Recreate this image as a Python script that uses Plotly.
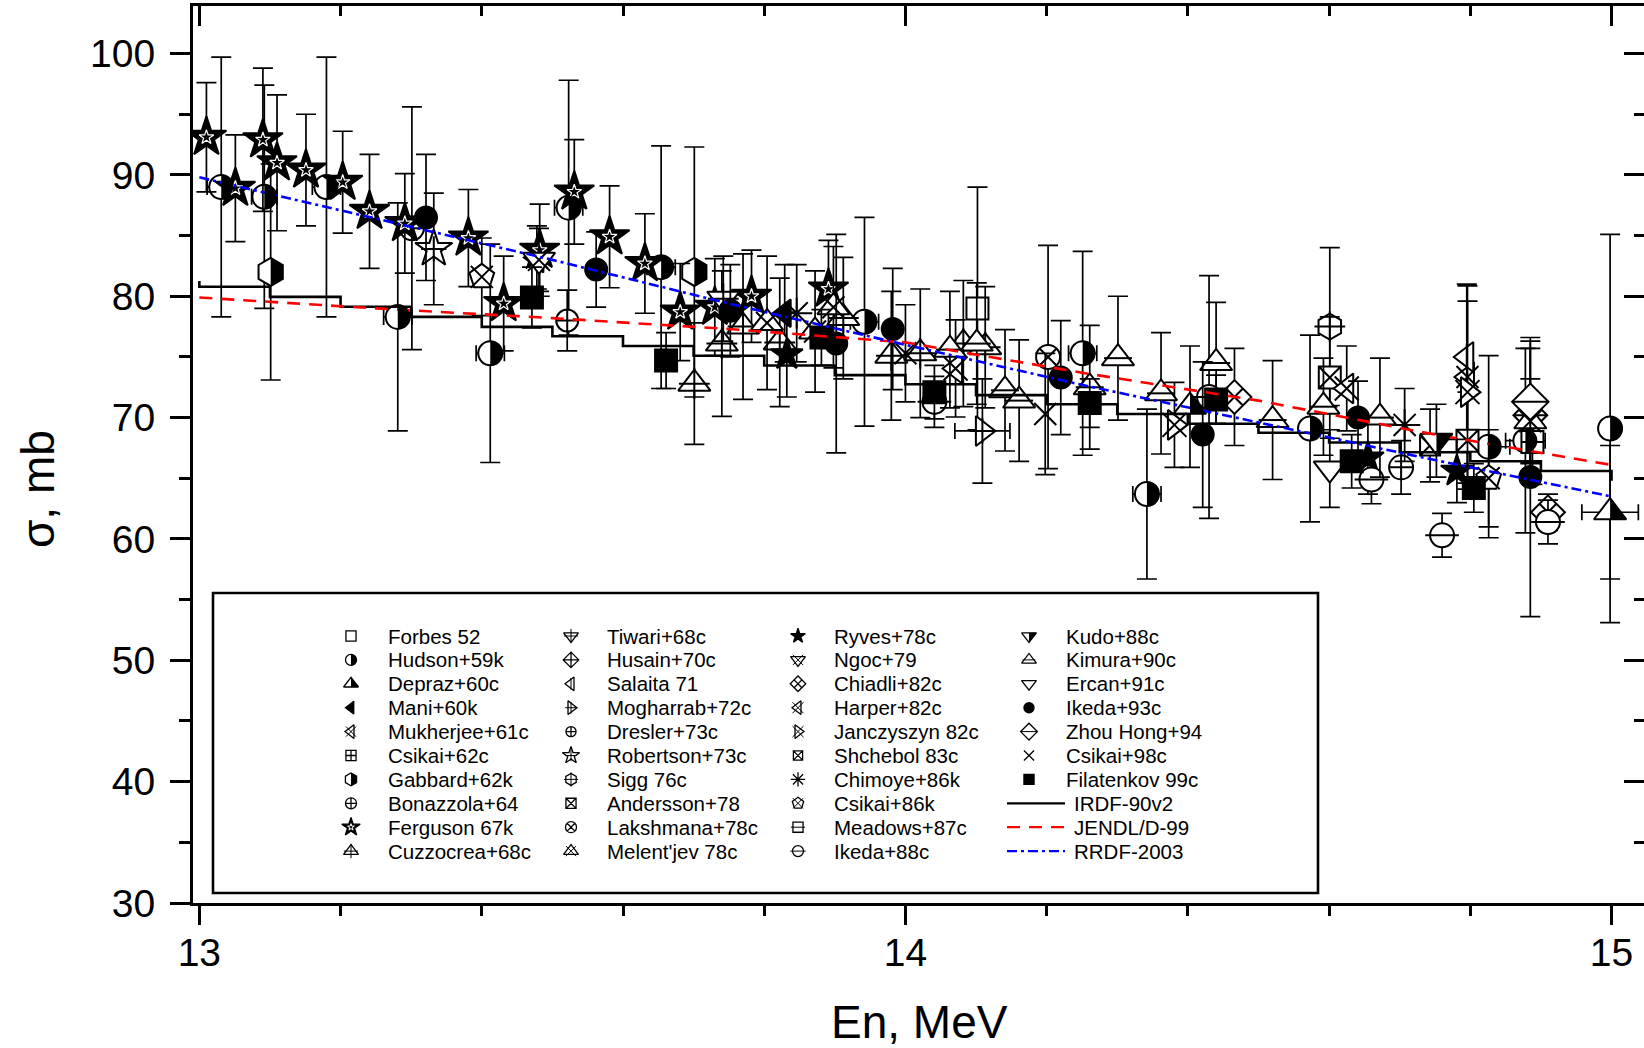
import plotly.graph_objects as go

# ---------------- measured data: En (MeV), cross section (mb), 1-sigma errors ----------------
forbes_en = [14.102]
forbes_cs = [79.0]
forbes_err = [10.0]

hudson_en = [13.031, 13.092, 13.180, 13.281, 13.412, 13.523, 13.654, 13.942, 14.251, 14.342, 14.573, 14.826, 14.878, 14.998]
hudson_cs = [89.0, 88.2, 89.0, 78.3, 75.3, 87.3, 82.4, 77.9, 75.3, 63.7, 69.1, 67.6, 68.1, 69.1]
hudson_err = [10.7, 9.2, 10.7, 9.4, 9.0, 10.5, 10.0, 8.6, 8.4, 7.0, 7.7, 7.5, 7.6, 16.0]
hudson_xerr = [0.02, 0.018, 0.02, 0.02, 0.02, 0.02, 0.02, 0.02, 0.02, 0.02, 0.0, 0.03, 0.028, 0.0]

depraz_en = [14.403, 14.998]
depraz_cs = [70.9, 62.2]
depraz_err = [5.0, 5.5]
depraz_xerr = [0.0, 0.04]

mani_en = [13.829]
mani_cs = [78.6]
mani_err = [4.0]

mukherjee_en = [13.478, 14.796]
mukherjee_cs = [83.2, 73.35]
mukherjee_err = [2.6, 7.5]

csikai62_en = [14.888]
csikai62_cs = [68.0]
csikai62_err = [3.5]

gabbard_en = [13.101, 13.701]
gabbard_cs = [82.0, 82.0]
gabbard_err = [8.9, 10.3]

bonazzola_en = [13.301, 14.702]
bonazzola_cs = [85.6, 65.9]
bonazzola_err = [10.0, 2.2]

ferguson_en = [13.010, 13.051, 13.090, 13.110, 13.151, 13.203, 13.241, 13.291, 13.381, 13.431,
               13.482, 13.531, 13.581, 13.631, 13.681, 13.730, 13.782, 13.891]
ferguson_cs = [93.1, 88.9, 92.9, 91.0, 90.4, 89.4, 87.0, 86.0, 84.8, 79.4,
               83.8, 88.6, 84.9, 82.7, 78.7, 79.1, 80.0, 80.6]
ferguson_err = [4.5, 4.4, 5.9, 5.6, 4.6, 4.2, 4.7, 4.1, 4.0, 3.9,
                3.8, 4.3, 4.2, 4.1, 4.0, 4.0, 3.8, 4.0]

cuzzocrea_en = [13.701, 13.740, 13.770, 13.822, 13.912, 13.980, 14.021, 14.082, 14.113]
cuzzocrea_cs = [72.8, 76.1, 77.5, 76.2, 78.2, 75.1, 75.3, 76.1, 75.8]
cuzzocrea_err = [5.0, 6.0, 6.0, 5.3, 5.0, 5.3, 5.3, 5.2, 5.0]

tiwari_en = [13.742]
tiwari_cs = [79.8]
tiwari_err = [3.5]

husain_en = [14.885]
husain_cs = [70.2]
husain_err = [5.5]

salaita_en = [14.795]
salaita_cs = [75.0]
salaita_err = [6.0]

mogharrab_en = [14.109]
mogharrab_cs = [68.9]
mogharrab_err = [4.3]
mogharrab_xerr = [0.039]

dresler_en = [13.521]
dresler_cs = [78.0]
dresler_err = [2.5]

robertson_en = [13.332]
robertson_cs = [83.9]
robertson_err = [4.6]

sigg_en = [14.601]
sigg_cs = [77.5]
sigg_err = [6.5]

andersson_en = [14.601, 14.796]
andersson_cs = [73.3, 68.1]
andersson_err = [5.0, 4.0]

lakshmana_en = [14.202]
lakshmana_cs = [75.0]
lakshmana_err = [9.2]

melentjev_en = [13.804, 13.872, 13.898, 14.885]
melentjev_cs = [77.8, 77.1, 79.1, 69.7]
melentjev_err = [5.5, 5.0, 5.0, 3.5]

ryves_en = [13.832, 14.655, 14.781]
ryves_cs = [75.2, 66.7, 65.6]
ryves_err = [3.5, 3.0, 2.6]

ngoc_en = [13.481]
ngoc_cs = [83.0]
ngoc_err = [2.6]

chiadli_en = [14.466, 14.910]
chiadli_cs = [71.7, 62.2]
chiadli_err = [4.0, 1.5]

harper_en = [14.071, 14.625]
harper_cs = [74.05, 72.4]
harper_err = [4.0, 3.5]

janczyszyn_en = [14.381, 14.796]
janczyszyn_cs = [69.4, 72.1]
janczyszyn_err = [3.5, 7.5]

shchebol_en = [14.743]
shchebol_cs = [67.7]
shchebol_err = [3.0]

chimoye_en = [13.846, 14.707]
chimoye_cs = [78.6, 69.4]
chimoye_err = [4.0, 3.0]

csikai86_en = [13.400, 14.826]
csikai86_cs = [81.6, 65.0]
csikai86_err = [3.2, 4.0]

meadows_en = []
meadows_cs = []
meadows_err = []

ikeda88_en = [14.041, 14.430, 14.660, 14.760, 14.910]
ikeda88_cs = [71.3, 71.7, 64.9, 60.3, 61.4]
ikeda88_err = [2.1, 10.0, 2.0, 1.8, 1.8]

kudo_en = [14.752]
kudo_cs = [68.1]
kudo_err = [3.0]

kimura_en = [14.063, 14.101, 14.141, 14.161, 14.261, 14.301, 14.362, 14.440, 14.520, 14.592, 14.672]
kimura_cs = [75.6, 76.1, 72.25, 71.4, 72.5, 74.9, 72.0, 74.5, 69.8, 70.9, 70.0]
kimura_err = [4.8, 5.0, 5.0, 5.0, 5.1, 5.1, 5.0, 5.0, 4.9, 4.0, 4.9]

ercan_en = [14.601]
ercan_cs = [65.8]
ercan_err = [3.2]

ikeda93_en = [13.321, 13.562, 13.752, 13.902, 13.982, 14.220, 14.421, 14.641, 14.885]
ikeda93_cs = [86.5, 82.2, 78.8, 76.1, 77.3, 73.3, 68.6, 70.0, 65.1]
ikeda93_err = [5.2, 3.1, 3.8, 9.0, 5.0, 4.7, 6.0, 3.0, 11.5]

zhou_en = [14.885]
zhou_cs = [71.3]
zhou_err = [5.0]

csikai98_en = [14.000, 14.198]
csikai98_cs = [75.3, 70.3]
csikai98_err = [4.0, 5.0]

filatenkov_en = [13.471, 13.661, 13.881, 14.041, 14.261, 14.440, 14.632, 14.805]
filatenkov_cs = [79.9, 74.7, 76.6, 72.1, 71.2, 71.5, 66.4, 64.2]
filatenkov_err = [2.5, 2.3, 2.3, 2.2, 2.0, 2.0, 2.2, 2.0]

# evaluations
irdf_en = [13.0, 13.0, 13.1, 13.2, 13.3, 13.4, 13.5, 13.6, 13.7, 13.8, 13.9,
           14.0, 14.1, 14.2, 14.3, 14.4, 14.5, 14.6, 14.7, 14.8, 14.9, 15.0]
irdf_cs = [81.25, 80.78, 79.95, 79.13, 78.30, 77.48, 76.70, 75.90, 75.10, 74.30, 73.50,
           72.75, 71.85, 71.10, 70.30, 69.50, 68.75, 67.95, 67.15, 66.40, 65.60, 64.80]
jendl_en = [13.0, 13.25, 13.5, 13.75, 14.0, 14.25, 14.5, 14.75, 15.0]
jendl_cs = [79.9, 79.0, 78.2, 77.3, 76.2, 73.7, 71.4, 68.6, 66.1]
rrdf_en = [13.0, 13.25, 13.5, 13.75, 14.0, 14.25, 14.5, 14.75, 15.0]
rrdf_cs = [89.8, 86.4, 83.0, 79.4, 76.0, 72.7, 69.6, 66.5, 63.5]

x_ticks = [13, 14, 15]
y_ticks = [30, 40, 50, 60, 70, 80, 90, 100]

# ---------------- styles ----------------
STYLE = {
    "forbes": dict(sym="square", fill="white", size=22),
    "hudson": dict(sym="circle", fill="white", size=24, half="circle"),
    "depraz": dict(sym="triangle-up", fill="white", size=28, half="tri_up"),
    "mani": dict(sym="triangle-left", fill="black", size=24),
    "mukherjee": dict(sym="triangle-left", fill="white", size=26, ov="x-thin", ovs=22),
    "csikai62": dict(sym="square-cross", fill="white", size=22),
    "gabbard": dict(sym="hexagon", fill="white", size=28, half="hexagon"),
    "bonazzola": dict(sym="circle-cross", fill="white", size=24),
    "ferguson": dict(sym="star", fill="black", size=30, ov="star-open", ovs=11, ovc="white"),
    "cuzzocrea": dict(sym="triangle-up", fill="white", size=28, ov="cross-thin", ovs=22),
    "tiwari": dict(sym="triangle-down", fill="white", size=28, ov="cross-thin", ovs=22),
    "husain": dict(sym="diamond-cross", fill="white", size=26),
    "salaita": dict(sym="triangle-left", fill="white", size=26, ov="line-ns", ovs=18),
    "mogharrab": dict(sym="triangle-right", fill="white", size=26, ov="cross-thin", ovs=18),
    "dresler": dict(sym="circle-cross", fill="white", size=22),
    "robertson": dict(sym="star", fill="white", size=28, ov="cross-thin", ovs=18),
    "sigg": dict(sym="hexagon", fill="white", size=26, ov="cross-thin", ovs=22),
    "andersson": dict(sym="square-x", fill="white", size=22),
    "lakshmana": dict(sym="circle-x", fill="white", size=24),
    "melentjev": dict(sym="triangle-up", fill="white", size=28, ov="x-thin", ovs=22),
    "ryves": dict(sym="star", fill="black", size=24),
    "ngoc": dict(sym="triangle-down", fill="white", size=28, ov="x-thin", ovs=22),
    "chiadli": dict(sym="diamond-x", fill="white", size=26),
    "harper": dict(sym="triangle-left", fill="white", size=26, ov="x-thin", ovs=24),
    "janczyszyn": dict(sym="triangle-right", fill="white", size=26, ov="x-thin", ovs=24),
    "shchebol": dict(sym="square-x", fill="white", size=20),
    "chimoye": dict(sym="asterisk-open", fill="black", size=26),
    "csikai86": dict(sym="pentagon", fill="white", size=26, ov="x-thin", ovs=22),
    "meadows": dict(sym="square", fill="white", size=22, ov="line-ew", ovs=22),
    "ikeda88": dict(sym="circle", fill="white", size=24, ov="line-ew", ovs=24),
    "kudo": dict(sym="triangle-down", fill="white", size=28, half="tri_down"),
    "kimura": dict(sym="triangle-up", fill="white", size=28, ov="line-ew", ovs=20),
    "ercan": dict(sym="triangle-down", fill="white", size=28),
    "ikeda93": dict(sym="circle", fill="black", size=22),
    "zhou": dict(sym="diamond", fill="white", size=28, ov="line-ew", ovs=26),
    "csikai98": dict(sym="x-thin", fill="black", size=22),
    "filatenkov": dict(sym="square", fill="black", size=22),
}

series = [
    ("Forbes 52", forbes_en, forbes_cs, forbes_err, None, "forbes"),
    ("Hudson+59k", hudson_en, hudson_cs, hudson_err, hudson_xerr, "hudson"),
    ("Depraz+60c", depraz_en, depraz_cs, depraz_err, depraz_xerr, "depraz"),
    ("Mani+60k", mani_en, mani_cs, mani_err, None, "mani"),
    ("Mukherjee+61c", mukherjee_en, mukherjee_cs, mukherjee_err, None, "mukherjee"),
    ("Csikai+62c", csikai62_en, csikai62_cs, csikai62_err, None, "csikai62"),
    ("Gabbard+62k", gabbard_en, gabbard_cs, gabbard_err, None, "gabbard"),
    ("Bonazzola+64", bonazzola_en, bonazzola_cs, bonazzola_err, None, "bonazzola"),
    ("Ferguson 67k", ferguson_en, ferguson_cs, ferguson_err, None, "ferguson"),
    ("Cuzzocrea+68c", cuzzocrea_en, cuzzocrea_cs, cuzzocrea_err, None, "cuzzocrea"),
    ("Tiwari+68c", tiwari_en, tiwari_cs, tiwari_err, None, "tiwari"),
    ("Husain+70c", husain_en, husain_cs, husain_err, None, "husain"),
    ("Salaita 71", salaita_en, salaita_cs, salaita_err, None, "salaita"),
    ("Mogharrab+72c", mogharrab_en, mogharrab_cs, mogharrab_err, mogharrab_xerr, "mogharrab"),
    ("Dresler+73c", dresler_en, dresler_cs, dresler_err, None, "dresler"),
    ("Robertson+73c", robertson_en, robertson_cs, robertson_err, None, "robertson"),
    ("Sigg 76c", sigg_en, sigg_cs, sigg_err, None, "sigg"),
    ("Andersson+78", andersson_en, andersson_cs, andersson_err, None, "andersson"),
    ("Lakshmana+78c", lakshmana_en, lakshmana_cs, lakshmana_err, None, "lakshmana"),
    ("Melent'jev 78c", melentjev_en, melentjev_cs, melentjev_err, None, "melentjev"),
    ("Ryves+78c", ryves_en, ryves_cs, ryves_err, None, "ryves"),
    ("Ngoc+79", ngoc_en, ngoc_cs, ngoc_err, None, "ngoc"),
    ("Chiadli+82c", chiadli_en, chiadli_cs, chiadli_err, None, "chiadli"),
    ("Harper+82c", harper_en, harper_cs, harper_err, None, "harper"),
    ("Janczyszyn 82c", janczyszyn_en, janczyszyn_cs, janczyszyn_err, None, "janczyszyn"),
    ("Shchebol 83c", shchebol_en, shchebol_cs, shchebol_err, None, "shchebol"),
    ("Chimoye+86k", chimoye_en, chimoye_cs, chimoye_err, None, "chimoye"),
    ("Csikai+86k", csikai86_en, csikai86_cs, csikai86_err, None, "csikai86"),
    ("Meadows+87c", meadows_en, meadows_cs, meadows_err, None, "meadows"),
    ("Ikeda+88c", ikeda88_en, ikeda88_cs, ikeda88_err, None, "ikeda88"),
    ("Kudo+88c", kudo_en, kudo_cs, kudo_err, None, "kudo"),
    ("Kimura+90c", kimura_en, kimura_cs, kimura_err, None, "kimura"),
    ("Ercan+91c", ercan_en, ercan_cs, ercan_err, None, "ercan"),
    ("Ikeda+93c", ikeda93_en, ikeda93_cs, ikeda93_err, None, "ikeda93"),
    ("Zhou Hong+94", zhou_en, zhou_cs, zhou_err, None, "zhou"),
    ("Csikai+98c", csikai98_en, csikai98_cs, csikai98_err, None, "csikai98"),
    ("Filatenkov 99c", filatenkov_en, filatenkov_cs, filatenkov_err, None, "filatenkov"),
]

curves = [
    ("IRDF-90v2", irdf_en, irdf_cs, dict(color="black", width=2.6), "hv"),
    ("JENDL/D-99", jendl_en, jendl_cs, dict(color="#ff0000", width=2.6, dash="13px,9px"), "linear"),
    ("RRDF-2003", rrdf_en, rrdf_cs, dict(color="#0000ff", width=2.6, dash="10px,4px,3px,4px"), "linear"),
]

FONT = "Liberation Sans, Arial, sans-serif"
XR = [12.991, 15.046]
YR = [30.0, 103.92]


def half_path(kind, size):
    r = size / 2.0
    if kind == "circle":
        k = 0.5523 * r
        return f"M0,{r} C{k},{r} {r},{k} {r},0 C{r},{-k} {k},{-r} 0,{-r} Z"
    if kind == "hexagon":
        ra, rh = 0.866 * r, 0.5 * r
        return f"M0,{r} L{ra},{rh} L{ra},{-rh} L0,{-r} Z"
    rt = 1.1547 * r
    if kind == "tri_up":
        return f"M0,{r} L{rt},{-r / 2} L0,{-r / 2} Z"
    return f"M0,{r / 2} L{rt},{r / 2} L0,{-r} Z"


def marker_dict(sym, size, fill, lw, lc="black"):
    return dict(symbol=sym, size=size, color=fill, line=dict(color=lc, width=lw))


fig = go.Figure()
shapes = []

# data series
for label, en, cs, err, xerr, key in series:
    st = STYLE[key]
    tr = dict(x=en, y=cs, mode="markers", name=label, showlegend=False,
              marker=marker_dict(st["sym"], st["size"], st["fill"], 2),
              error_y=dict(type="data", array=err, visible=True, color="black", thickness=1.7, width=10))
    if xerr is not None:
        tr["error_x"] = dict(type="data", array=xerr, visible=True, color="black", thickness=1.7, width=8)
    fig.add_trace(go.Scatter(**tr))
    if st.get("ov"):
        oc = st.get("ovc", "black")
        fig.add_trace(go.Scatter(x=en, y=cs, mode="markers", showlegend=False, hoverinfo="skip",
                                 marker=marker_dict(st["ov"], st["ovs"], oc, 2 if oc == "black" else 1.2, oc)))
    if st.get("half"):
        for xv, yv in zip(en, cs):
            shapes.append(dict(type="path", xref="x", yref="y", xsizemode="pixel", ysizemode="pixel",
                               xanchor=xv, yanchor=yv, path=half_path(st["half"], st["size"]),
                               fillcolor="black", line=dict(width=0), layer="above"))

# evaluation curves
for label, en, cs, ln, shp in curves:
    fig.add_trace(go.Scatter(x=en, y=cs, mode="lines", name=label, showlegend=False,
                             line=dict(shape=shp, **ln)))

# empty trace so the mirrored (top/right) tick axes are drawn
fig.add_trace(go.Scatter(x=[], y=[], xaxis="x2", yaxis="y2", showlegend=False))

# ---------------- hand-built legend (pixel coordinate overlay axes x3/y3) ----------------
LEG_BOX = (213, 593, 1318, 893)
LEG_ROW0, LEG_DROW = 636.0, 23.9
LEG_SYM_X = [351, 571, 798, 1029]
LEG_TXT_X = [386, 605, 832, 1064]
LEG_LINE_X = (1007, 1065)
LEG_LINE_TXT_X = 1072
LEG_SCALE = 0.46

shapes.append(dict(type="rect", xref="x3", yref="y3", x0=LEG_BOX[0], y0=LEG_BOX[1], x1=LEG_BOX[2], y1=LEG_BOX[3],
                   line=dict(color="black", width=2.6), fillcolor="white", layer="below"))

annotations = []
entries = [(s[0], "series", s[5]) for s in series] + [(c[0], "curve", c) for c in curves]
for i, (label, kind, info) in enumerate(entries):
    col, row = i // 10, i % 10
    yrow = LEG_ROW0 + row * LEG_DROW
    if kind == "series":
        st = STYLE[info]
        xs = LEG_SYM_X[col]
        sz = st["size"] * LEG_SCALE
        fig.add_trace(go.Scatter(x=[xs], y=[yrow], xaxis="x3", yaxis="y3", mode="markers", showlegend=False,
                                 hoverinfo="skip", marker=marker_dict(st["sym"], sz, st["fill"], 1.3)))
        if st.get("ov"):
            oc = st.get("ovc", "black")
            fig.add_trace(go.Scatter(x=[xs], y=[yrow], xaxis="x3", yaxis="y3", mode="markers", showlegend=False,
                                     hoverinfo="skip",
                                     marker=marker_dict(st["ov"], st["ovs"] * LEG_SCALE, oc, 1.0, oc)))
        if st.get("half"):
            shapes.append(dict(type="path", xref="x3", yref="y3", xsizemode="pixel", ysizemode="pixel",
                               xanchor=xs, yanchor=yrow, path=half_path(st["half"], sz),
                               fillcolor="black", line=dict(width=0), layer="above"))
        tx = LEG_TXT_X[col]
    else:
        ln = dict(info[3])
        ln["width"] = 2.2
        fig.add_trace(go.Scatter(x=list(LEG_LINE_X), y=[yrow, yrow], xaxis="x3", yaxis="y3", mode="lines",
                                 showlegend=False, hoverinfo="skip", line=ln))
        tx = LEG_LINE_TXT_X
    annotations.append(dict(text=label, x=tx, y=yrow, xref="x3", yref="y3", xanchor="left", yanchor="middle",
                            showarrow=False, font=dict(family=FONT, size=20.5, color="black")))

# axis titles
annotations.append(dict(text="En, MeV", x=0.501, y=-0.1327, xref="paper", yref="paper",
                        xanchor="center", yanchor="middle", showarrow=False,
                        font=dict(family=FONT, size=46, color="black")))
annotations.append(dict(text="σ, mb", x=-0.1072, y=0.462, xref="paper", yref="paper", textangle=-90,
                        xanchor="center", yanchor="middle", showarrow=False,
                        font=dict(family=FONT, size=46, color="black")))

tickcommon = dict(showgrid=False, zeroline=False, linecolor="black", tickcolor="black", tickwidth=2.5)

fig.update_layout(
    width=1644, height=1048,
    margin=dict(l=193, r=0, t=6, b=145),
    paper_bgcolor="white", plot_bgcolor="white",
    showlegend=False,
    font=dict(family=FONT, color="black"),
    xaxis=dict(range=XR, showline=True, linewidth=3, ticks="outside", ticklen=19,
               tickmode="array", tickvals=x_ticks, ticktext=[str(v) for v in x_ticks],
               tickfont=dict(size=39, family=FONT), ticklabelstandoff=-6,
               minor=dict(dtick=0.2, tick0=13, ticks="outside", ticklen=10, tickwidth=2.5, tickcolor="black"),
               **tickcommon),
    xaxis2=dict(range=XR, overlaying="x", side="top", anchor="y2", showline=True, linewidth=3, ticks="inside",
                ticklen=20, tickmode="array", tickvals=x_ticks, showticklabels=False,
                minor=dict(dtick=0.2, tick0=13, ticks="inside", ticklen=10, tickwidth=2.5, tickcolor="black"),
                **tickcommon),
    yaxis=dict(range=YR, showline=True, linewidth=3, ticks="outside", ticklen=20,
               tickmode="array", tickvals=y_ticks, ticktext=[str(v) for v in y_ticks],
               tickfont=dict(size=39, family=FONT), ticklabelstandoff=7,
               minor=dict(dtick=5, tick0=0, ticks="outside", ticklen=11, tickwidth=2.5, tickcolor="black"),
               **tickcommon),
    yaxis2=dict(range=YR, overlaying="y", side="right", anchor="x2", showline=False, ticks="inside", ticklen=20,
                tickmode="array", tickvals=y_ticks, showticklabels=False,
                minor=dict(dtick=5, tick0=0, ticks="inside", ticklen=10, tickwidth=2.5, tickcolor="black"),
                **tickcommon),
    xaxis3=dict(range=[193, 1644], overlaying="x", anchor="y3", visible=False, showgrid=False, zeroline=False),
    yaxis3=dict(range=[903, 6], overlaying="y", anchor="x3", visible=False, showgrid=False, zeroline=False),
    shapes=shapes,
    annotations=annotations,
)

fig.write_html("out.html")
